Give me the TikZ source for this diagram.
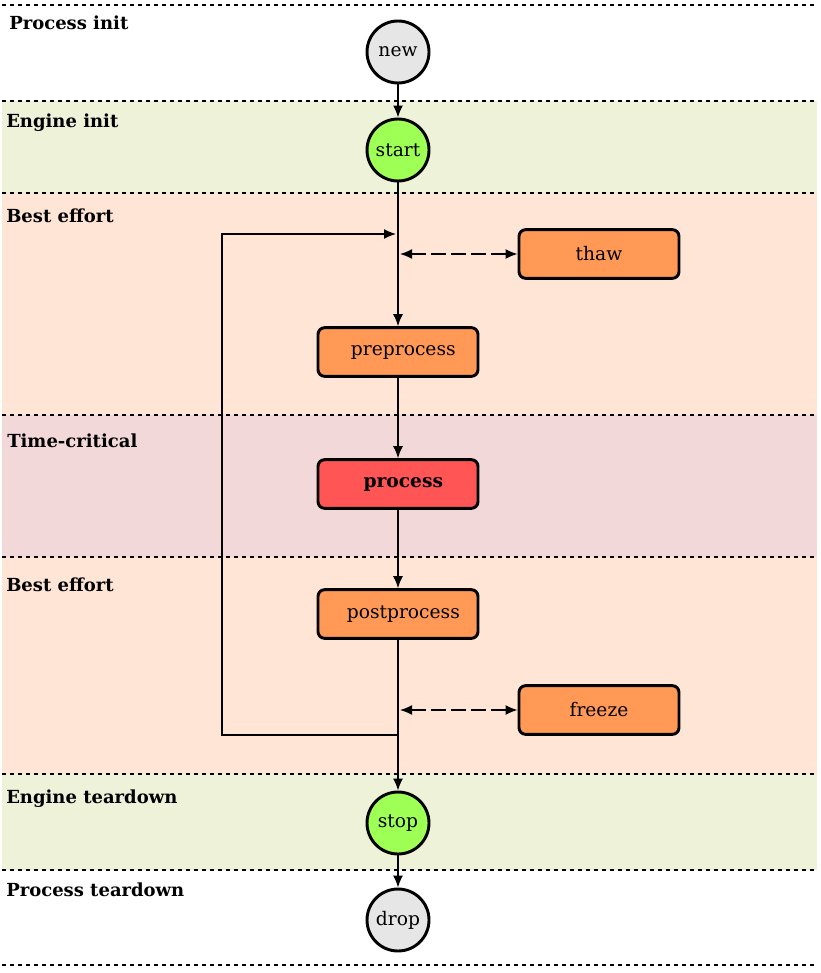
\documentclass[tikz,border=0pt]{standalone}
\usepackage{fontspec}
\setmainfont{DejaVu Serif}
\usetikzlibrary{arrows.meta}
\definecolor{bgreen}{HTML}{EDF2D8}
\definecolor{bpeach}{HTML}{FEE5D5}
\definecolor{bpink}{HTML}{F2D8D9}
\definecolor{cgray}{HTML}{E6E6E6}
\definecolor{cgreen}{HTML}{9EFF55}
\definecolor{corange}{HTML}{FF9955}
\definecolor{cred}{HTML}{FF5555}
\begin{document}
\begin{tikzpicture}[x=0.75pt,y=-0.75pt,
  sep/.style={dashed,line width=1pt},
  lbl/.style={anchor=west,font=\bfseries\fontsize{13.5}{15}\selectfont,inner sep=0},
  circ/.style={circle,draw,line width=2.2pt,minimum size=46.5pt,inner sep=0,font=\fontsize{14}{16}\selectfont},
  box/.style={rectangle,rounded corners=5pt,draw,line width=2.2pt,fill=corange,minimum width=120pt,minimum height=36.5pt,inner sep=0,font=\fontsize{14}{16}\selectfont},
  arr/.style={-{Latex[length=9pt,width=7.5pt]},line width=1.1pt},
  darr/.style={{Latex[length=9pt,width=7.5pt]}-{Latex[length=9pt,width=7.5pt]},line width=1.1pt,dash pattern=on 11pt off 4pt}]
\useasboundingbox (0,0) rectangle (820,973);
\fill[bgreen] (2,101) rectangle (817,193);
\fill[bpeach] (2,193) rectangle (817,415);
\fill[bpink] (2,415) rectangle (817,557);
\fill[bpeach] (2,557) rectangle (817,774);
\fill[bgreen] (2,774) rectangle (817,870);
\foreach \y in {5,101,193,415,557,774,870,965} \draw[sep] (2,\y) -- (817,\y);
\node[lbl] at (9,23) {Process init};
\node[lbl] at (6,123) {Engine init};
\node[lbl] at (6,216) {Best effort};
\node[lbl] at (7,441) {Time-critical};
\node[lbl] at (6,585) {Best effort};
\node[lbl] at (6,799) {Engine teardown};
\node[lbl] at (6,890) {Process teardown};
\node[circ,fill=cgray] (new) at (398,52) {new};
\node[circ,fill=cgreen] (start) at (398,150) {start};
\node[box] (thaw) at (599,254) {thaw};
\node[box] (pre) at (398,352) {\hspace*{8pt}preprocess};
\node[box,fill=cred,font=\bfseries\fontsize{14}{16}\selectfont] (proc) at (398,484) {\hspace*{8pt}process};
\node[box] (post) at (398,614) {\hspace*{8pt}postprocess};
\node[box] (freeze) at (599,710) {freeze};
\node[circ,fill=cgreen] (stop) at (398,823) {stop};
\node[circ,fill=cgray] (drop) at (398,920) {drop};
\coordinate (j1) at (398,254);
\coordinate (j2) at (398,710);
\coordinate (lb) at (398,735);
\coordinate (lt) at (396,234);
\draw[arr] (new) -- (start);
\draw[arr] (start) -- (pre);
\draw[arr] (pre) -- (proc);
\draw[arr] (proc) -- (post);
\draw[arr] (post.south -| stop) -- (stop);
\draw[arr] (stop) -- (drop);
\draw[darr] ([xshift=1.5pt]j1) -- (thaw.west);
\draw[darr] ([xshift=1.5pt]j2) -- (freeze.west);
\draw[arr] (lb) -- (222,735) -- (222,234) -- (lt);
\end{tikzpicture}
\end{document}
